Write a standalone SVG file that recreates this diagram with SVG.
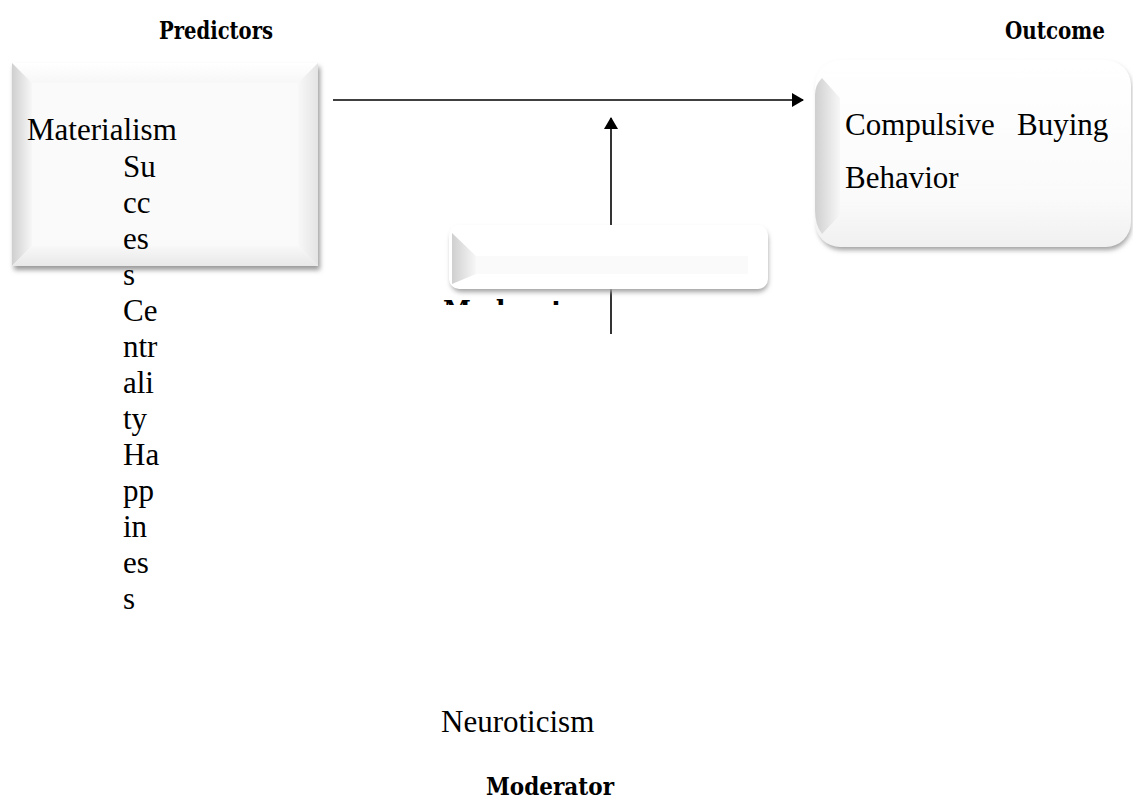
<svg xmlns="http://www.w3.org/2000/svg" width="1133" height="803" viewBox="0 0 1133 803">
<style>
.t{font-family:"Liberation Serif","Times New Roman",serif;font-size:31px;fill:#000}
.h{font-family:"DejaVu Serif","Liberation Serif",serif;font-weight:bold;font-size:25px;fill:#000}
.ln{stroke:#000;stroke-width:1.6;fill:none}
</style>
<defs>
<marker id="ah" viewBox="0 0 12 14" refX="11" refY="7" markerWidth="12" markerHeight="14" markerUnits="userSpaceOnUse" orient="auto">
<path d="M0,0 L12,7 L0,14 Z" fill="#000"/>
</marker>
<linearGradient id="bevL" x1="0" y1="0" x2="1" y2="0">
<stop offset="0" stop-color="#cfcfcf"/>
<stop offset="1" stop-color="#f7f7f7"/>
</linearGradient>
<linearGradient id="bevT" x1="0" y1="0" x2="0" y2="1">
<stop offset="0" stop-color="#ffffff"/>
<stop offset="1" stop-color="#f7f7f7"/>
</linearGradient>
<linearGradient id="bevB" x1="0" y1="0" x2="0" y2="1">
<stop offset="0" stop-color="#f8f8f8"/>
<stop offset="1" stop-color="#e8e8e8"/>
</linearGradient>
<linearGradient id="bevR" x1="0" y1="0" x2="1" y2="0">
<stop offset="0" stop-color="#f8f8f8"/>
<stop offset="1" stop-color="#e4e4e4"/>
</linearGradient>
<linearGradient id="boxV" x1="0" y1="0" x2="0" y2="1">
<stop offset="0" stop-color="#ffffff"/>
<stop offset="0.75" stop-color="#fafafa"/>
<stop offset="1" stop-color="#f0f0f0"/>
</linearGradient>
<filter id="sh" x="-10%" y="-10%" width="120%" height="130%">
<feGaussianBlur stdDeviation="2.5"/>
</filter>
<clipPath id="clipMod"><rect x="430" y="285" width="200" height="20"/></clipPath>
</defs>

<g id="headings">
<text class="h" x="159" y="39" textLength="114" lengthAdjust="spacingAndGlyphs">Predictors</text>
<text class="h" x="1005" y="39" textLength="100" lengthAdjust="spacingAndGlyphs">Outcome</text>
<text class="h" x="486" y="795" textLength="128" lengthAdjust="spacingAndGlyphs">Moderator</text>
</g>

<g id="connectors">
<line class="ln" x1="333" y1="100" x2="803" y2="100" marker-end="url(#ah)"/>
<line class="ln" x1="611" y1="334" x2="611" y2="118" marker-end="url(#ah)"/>
</g>

<g id="hidden-moderator-label">
<text class="h" x="443" y="318" font-size="28" textLength="150" lengthAdjust="spacingAndGlyphs" clip-path="url(#clipMod)">Moderator</text>
</g>

<g id="node-materialism">
<rect x="14" y="67" width="306" height="203" fill="#9a9a9a" filter="url(#sh)"/>
<rect x="12" y="63" width="306" height="203" fill="#fafafa"/>
<polygon points="12,63 318,63 298,83 32,83" fill="url(#bevT)"/>
<polygon points="12,63 32,83 32,246 12,266" fill="url(#bevL)"/>
<polygon points="12,266 32,246 298,246 318,266" fill="url(#bevB)"/>
<polygon points="318,63 318,266 298,246 298,83" fill="url(#bevR)"/>
<rect x="32" y="83" width="266" height="163" fill="#fafafa"/>
<text class="t" x="27" y="140">Materialism</text>
<text class="t" x="123" y="177">Su</text>
<text class="t" x="123" y="213">cc</text>
<text class="t" x="123" y="249">es</text>
<text class="t" x="123" y="285">s</text>
<text class="t" x="123" y="321">Ce</text>
<text class="t" x="123" y="357">ntr</text>
<text class="t" x="123" y="393">ali</text>
<text class="t" x="123" y="429">ty</text>
<text class="t" x="123" y="465">Ha</text>
<text class="t" x="123" y="501">pp</text>
<text class="t" x="123" y="537">in</text>
<text class="t" x="123" y="573">es</text>
<text class="t" x="123" y="609">s</text>
</g>

<g id="node-moderator">
<rect x="451" y="229" width="317" height="63" rx="10" fill="#a0a0a0" filter="url(#sh)"/>
<rect x="449" y="225" width="319" height="64" rx="10" fill="#ffffff"/>
<path d="M452,233 L476,256 L476,274 L452,284 Z" fill="url(#bevL)"/>
<rect x="476" y="256" width="272" height="18" fill="#fafafa"/>
</g>

<g id="node-outcome">
<rect x="818" y="64" width="313" height="186" rx="24" fill="#a0a0a0" filter="url(#sh)"/>
<rect x="815" y="60" width="316" height="187" rx="25" fill="url(#boxV)"/>
<path d="M822,78 L840,98 L840,215 L822,234 Q815,225 815,210 L815,95 Q815,85 822,78 Z" fill="url(#bevL)"/>
<text class="t" x="845" y="135">Compulsive</text>
<text class="t" x="1017" y="135">Buying</text>
<text class="t" x="845" y="188">Behavior</text>
</g>

<g id="label-neuroticism">
<text class="t" x="441" y="732">Neuroticism</text>
</g>
</svg>
